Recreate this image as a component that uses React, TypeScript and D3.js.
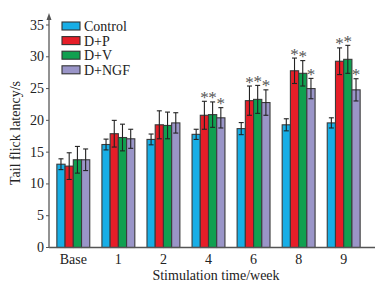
import React from "react";
import * as d3 from "d3";

const categories = ["Base", "1", "2", "4", "6", "8", "9"];
const seriesNames = ["Control", "D+P", "D+V", "D+NGF"];
const seriesColors = ["#18aee6", "#e61e28", "#10a050", "#9a95c8"];
const controlMean = [13.1, 16.2, 17.0, 17.8, 18.7, 19.3, 19.6];
const controlErr = [0.85, 0.85, 0.85, 0.8, 0.95, 0.95, 0.8];
const dpMean = [12.8, 17.9, 19.3, 20.8, 23.1, 27.8, 29.3];
const dpErr = [2.1, 2.1, 2.2, 2.2, 2.3, 2.0, 2.1];
const dvMean = [13.8, 17.3, 19.2, 20.9, 23.3, 27.4, 29.6];
const dvErr = [2.1, 2.1, 2.1, 2.0, 2.2, 2.0, 2.2];
const ngfMean = [13.8, 17.1, 19.6, 20.4, 22.8, 25.0, 24.8];
const ngfErr = [1.7, 1.5, 1.6, 1.6, 2.0, 1.6, 1.75];
const dpStar = [false, false, false, true, true, true, true];
const dvStar = [false, false, false, true, true, true, true];
const ngfStar = [false, false, false, true, true, true, true];
const yTicks = [0, 5, 10, 15, 20, 25, 30, 35];

const means = [controlMean, dpMean, dvMean, ngfMean];
const errs = [controlErr, dpErr, dvErr, ngfErr];
const stars = [null, dpStar, dvStar, ngfStar];

export default function App() {
  const W = 389, H = 287;
  const x0 = 49, xEnd = 375, yBase = 247.5;
  const y = d3.scaleLinear().domain([0, 35]).range([yBase, 25]);
  const x = d3.scaleBand<string>().domain(categories).range([51, 366]).paddingInner(0.27).paddingOuter(0.13);
  const xs = d3.scaleBand<string>().domain(seriesNames).range([0, x.bandwidth()]);
  const font = "Liberation Serif";

  return (
    <svg width={W} height={H} style={{ position: "absolute", left: 0, top: 0, background: "#fff" }}>
      {categories.map((c, i) =>
        seriesNames.map((s, k) => {
          const bx = (x(c) as number) + (xs(s) as number);
          const bw = xs.bandwidth();
          const v = means[k][i];
          const e = errs[k][i];
          const cx = bx + bw / 2;
          const st = stars[k];
          return (
            <g key={c + s}>
              <rect x={bx} y={y(v)} width={bw} height={yBase - y(v)} fill={seriesColors[k]} stroke="#3a3a3a" strokeWidth={1.1} />
              <line x1={cx} x2={cx} y1={y(v + e)} y2={y(v - e)} stroke="#222" strokeWidth={1.1} />
              <line x1={cx - 2.5} x2={cx + 2.5} y1={y(v + e)} y2={y(v + e)} stroke="#222" strokeWidth={1.1} />
              <line x1={cx - 2.5} x2={cx + 2.5} y1={y(v - e)} y2={y(v - e)} stroke="#222" strokeWidth={1.1} />
              {st && st[i] ? (
                <text x={cx} y={y(v + e) + 1.5} textAnchor="middle" fontFamily={font} fontSize={17} fill="#555">*</text>
              ) : null}
            </g>
          );
        })
      )}
      <line x1={x0} x2={xEnd} y1={yBase} y2={yBase} stroke="#555" strokeWidth={1.3} />
      <line x1={x0} x2={x0} y1={yBase} y2={18} stroke="#777" strokeWidth={1.6} />
      <path d={`M${x0 - 2.5},${20} L${x0},${13} L${x0 + 2.5},${20} Z`} fill="#555" />
      {yTicks.map((t) => (
        <g key={t}>
          <line x1={x0 - 3} x2={x0} y1={y(t)} y2={y(t)} stroke="#555" strokeWidth={1} />
          <text x={x0 - 5} y={y(t) + 4.5} textAnchor="end" fontFamily={font} fontSize={14} fill="#222">{t}</text>
        </g>
      ))}
      {categories.map((c) => (
        <text key={c} x={(x(c) as number) + x.bandwidth() / 2} y={264} textAnchor="middle" fontFamily={font} fontSize={14} fill="#222">{c}</text>
      ))}
      <text x={216} y={280} textAnchor="middle" fontFamily={font} fontSize={14} fill="#222">Stimulation time/week</text>
      <text transform={`translate(20,${133}) rotate(-90)`} textAnchor="middle" fontFamily={font} fontSize={14} fill="#222">Tail flick latency/s</text>
      {seriesNames.map((s, k) => (
        <g key={s}>
          <rect x={62} y={22 + k * 14.6} width={18} height={8} fill={seriesColors[k]} stroke="#333" strokeWidth={1.1} />
          <text x={84} y={31 + k * 14.6} fontFamily={font} fontSize={14} fill="#222">{s}</text>
        </g>
      ))}
    </svg>
  );
}
